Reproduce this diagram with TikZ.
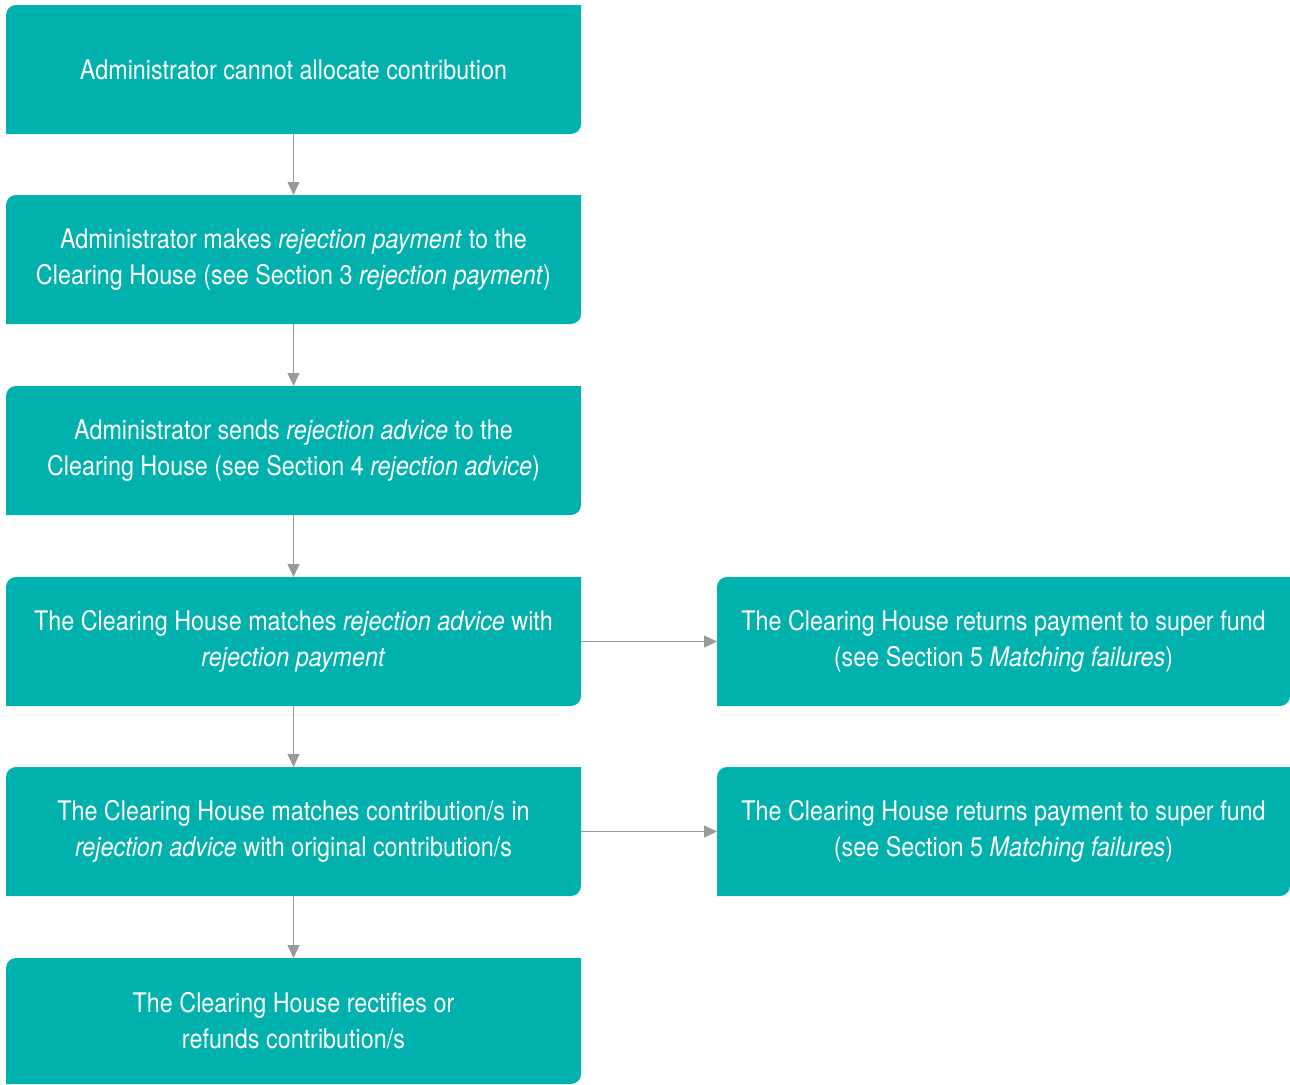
\documentclass[tikz,border=0pt]{standalone}
\usepackage{fontspec}
\setmainfont{TeX Gyre Heros}[FakeStretch=0.865]
\usetikzlibrary{arrows.meta}
\definecolor{teal1}{HTML}{00B1AE}
\definecolor{arrgray}{HTML}{999999}
\begin{document}
\begin{tikzpicture}[x=1pt,y=-1pt,
  flowbox/.style={fill=teal1,draw=none,text=white,align=center,
    font=\fontsize{27}{36}\selectfont},
  conn/.style={draw=arrgray,line width=1.3pt,-{Triangle[length=13pt,width=12pt]}}]
\useasboundingbox (0,0) rectangle (1290,1084);
\newcommand{\tbox}[6]{% name, x1,y1,x2,y2, text
  \fill[teal1] (#2+10,#3) -- (#4,#3) -- (#4,#5-10) arc[start angle=0,end angle=90,radius=10] -- (#2,#5) -- (#2,#3+10) arc[start angle=180,end angle=270,radius=10] -- cycle;
  \node[flowbox] (#1) at ({(#2+#4)/2},{(#3+#5)/2}) {#6};
  \coordinate (#1-n) at ({(#2+#4)/2},#3);
  \coordinate (#1-s) at ({(#2+#4)/2},#5);
  \coordinate (#1-e) at (#4,{(#3+#5)/2});
  \coordinate (#1-w) at (#2,{(#3+#5)/2});
}
\tbox{b1}{6}{5}{581}{134}{Administrator cannot allocate contribution}
\tbox{b2}{6}{195}{581}{324}{Administrator makes \textit{rejection payment} to the\\Clearing House (see Section 3 \textit{rejection payment})}
\tbox{b3}{6}{386}{581}{515}{Administrator sends \textit{rejection advice} to the\\Clearing House (see Section 4 \textit{rejection advice})}
\tbox{b4}{6}{577}{581}{706}{The Clearing House matches \textit{rejection advice} with\\\textit{rejection payment}}
\tbox{b5}{6}{767}{581}{896}{The Clearing House matches contribution/s in\\\textit{rejection advice} with original contribution/s}
\tbox{b6}{6}{958}{581}{1084}{The Clearing House rectifies or\\refunds contribution/s}
\tbox{r1}{717}{577}{1290}{706}{The Clearing House returns payment to super fund\\(see Section 5 \textit{Matching failures})}
\tbox{r2}{717}{767}{1290}{896}{The Clearing House returns payment to super fund\\(see Section 5 \textit{Matching failures})}
\draw[conn] (b1-s) -- (b2-n);
\draw[conn] (b2-s) -- (b3-n);
\draw[conn] (b3-s) -- (b4-n);
\draw[conn] (b4-s) -- (b5-n);
\draw[conn] (b5-s) -- (b6-n);
\draw[conn] (b4-e) -- (r1-w);
\draw[conn] (b5-e) -- (r2-w);
\end{tikzpicture}
\end{document}
